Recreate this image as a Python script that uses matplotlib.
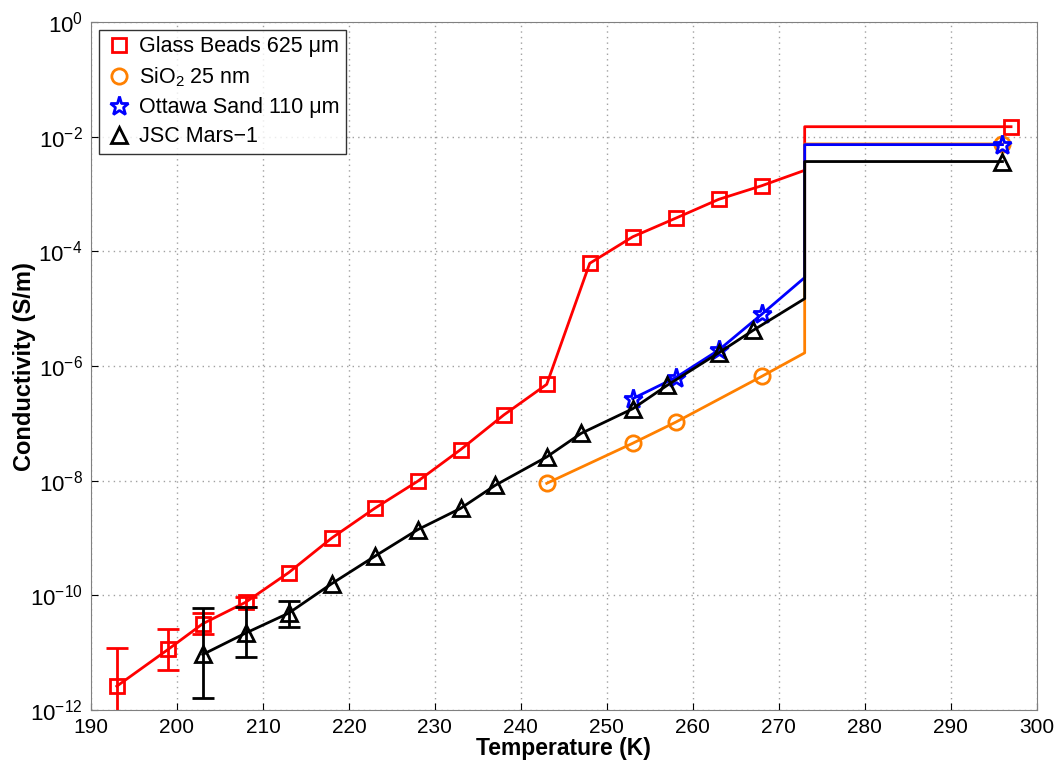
import matplotlib
matplotlib.use("Agg")
import matplotlib.pyplot as plt
import numpy as np

plt.rcParams['font.family'] = ['Liberation Sans', 'DejaVu Sans']
plt.rcParams['mathtext.fontset'] = 'custom'
plt.rcParams['mathtext.rm'] = 'Liberation Sans'

# Glass beads 625 um (last three points: step at 273 K, then marker at 297 K)
glass_T = [193, 199, 203, 208, 213, 218, 223, 228, 233, 238, 243, 248, 253, 258, 263, 268, 273, 273, 297]
glass_s = [2.6e-12, 1.15e-11, 3.2e-11, 7.6e-11, 2.5e-10, 1.0e-9, 3.3e-9, 9.8e-9, 3.5e-8, 1.4e-7,
           4.8e-7, 6.2e-5, 1.8e-4, 3.8e-4, 8.1e-4, 1.4e-3, 2.6e-3, 1.5e-2, 1.5e-2]
glass_err_T = [193, 199, 203, 208]
glass_err_lo = [1e-13, 4.9e-12, 2.1e-11, 6.2e-11]
glass_err_hi = [1.2e-11, 2.6e-11, 5.0e-11, 9.2e-11]

# SiO2 25 nm
sio2_T = [243, 253, 258, 268, 273, 273, 296]
sio2_s = [9.0e-9, 4.5e-8, 1.05e-7, 6.6e-7, 1.7e-6, 7.5e-3, 7.5e-3]

# Ottawa sand 110 um
ottawa_T = [253, 258, 263, 268, 273, 273, 296]
ottawa_s = [2.7e-7, 6.3e-7, 1.9e-6, 8.0e-6, 3.5e-5, 7.3e-3, 7.3e-3]

# JSC Mars-1
jsc_T = [203, 208, 213, 218, 223, 228, 233, 237, 243, 247, 253, 257, 263, 267, 273, 273, 296]
jsc_s = [9.3e-12, 2.2e-11, 4.9e-11, 1.6e-10, 4.8e-10, 1.4e-9, 3.3e-9, 8.3e-9, 2.6e-8, 6.7e-8,
         1.8e-7, 4.6e-7, 1.7e-6, 4.2e-6, 1.5e-5, 3.7e-3, 3.7e-3]
jsc_err_T = [203, 208, 213]
jsc_err_lo = [1.6e-12, 8.3e-12, 2.8e-11]
jsc_err_hi = [5.9e-11, 6.2e-11, 7.9e-11]

fig = plt.figure(figsize=(10.58, 7.64), dpi=100)
ax = fig.add_axes([0.086, 0.0707, 0.894, 0.9003])


def marks(n):
    # markers on measured points only, not on the 273 K step points
    return list(range(n - 3)) + [n - 1]


def draw(T, s, color, marker, label, ms=10):
    ax.plot(T, s, '-', color=color, linewidth=2, marker=marker, markersize=ms,
            markerfacecolor='none', markeredgecolor=color, markeredgewidth=2,
            markevery=marks(len(T)))
    ax.plot([], [], linestyle='none', marker=marker, markersize=ms, markerfacecolor='none',
            markeredgecolor=color, markeredgewidth=2, label=label)


def errs(T, lo, hi, color, allT, alls):
    lookup = dict(zip(allT[:len(allT) - 3], alls[:len(alls) - 3]))
    mid = np.array([lookup[t] for t in T])
    yerr = [mid - np.array(lo), np.array(hi) - mid]
    ax.errorbar(T, mid, yerr=yerr, fmt='none', ecolor=color, elinewidth=2,
                capsize=8, capthick=2)


draw(glass_T, glass_s, '#ff0000', 's', 'Glass Beads 625 \u03bcm')
errs(glass_err_T, glass_err_lo, glass_err_hi, '#ff0000', glass_T, glass_s)
draw(sio2_T, sio2_s, '#ff8000', 'o', r'SiO$_2$ 25 nm', ms=11)
draw(ottawa_T, ottawa_s, '#0000ff', '*', 'Ottawa Sand 110 \u03bcm', ms=14)
draw(jsc_T, jsc_s, '#000000', '^', 'JSC Mars\u22121', ms=11)
errs(jsc_err_T, jsc_err_lo, jsc_err_hi, '#000000', jsc_T, jsc_s)

ax.set_yscale('log')
ax.set_xlim(190, 300)
ax.set_ylim(1e-12, 1)
ax.set_xticks(range(190, 301, 10))
ax.set_yticks([10.0 ** k for k in range(-12, 1, 2)])
ax.minorticks_off()
ax.grid(True, linestyle=(0, (1, 3)), color='#a0a0a0', linewidth=1)
ax.tick_params(axis='x', direction='in', labelsize=15, length=5, pad=6)
ax.tick_params(axis='y', direction='in', labelsize=16, length=5, pad=6)
for sp in ax.spines.values():
    sp.set_color('#808080')

ax.set_xlabel('Temperature (K)', fontsize=16.5, fontweight='bold', labelpad=0)
ax.set_ylabel('Conductivity (S/m)', fontsize=17, fontweight='bold')
ax.yaxis.set_label_coords(-0.058, 0.5)

leg = ax.legend(loc='upper left', fontsize=15.5, frameon=True, fancybox=False,
                edgecolor='black', handletextpad=0.3, borderaxespad=0.35,
                labelspacing=0.38, handlelength=1.3, borderpad=0.3)
leg.get_frame().set_linewidth(1)

fig.savefig('out.png', dpi=100)
